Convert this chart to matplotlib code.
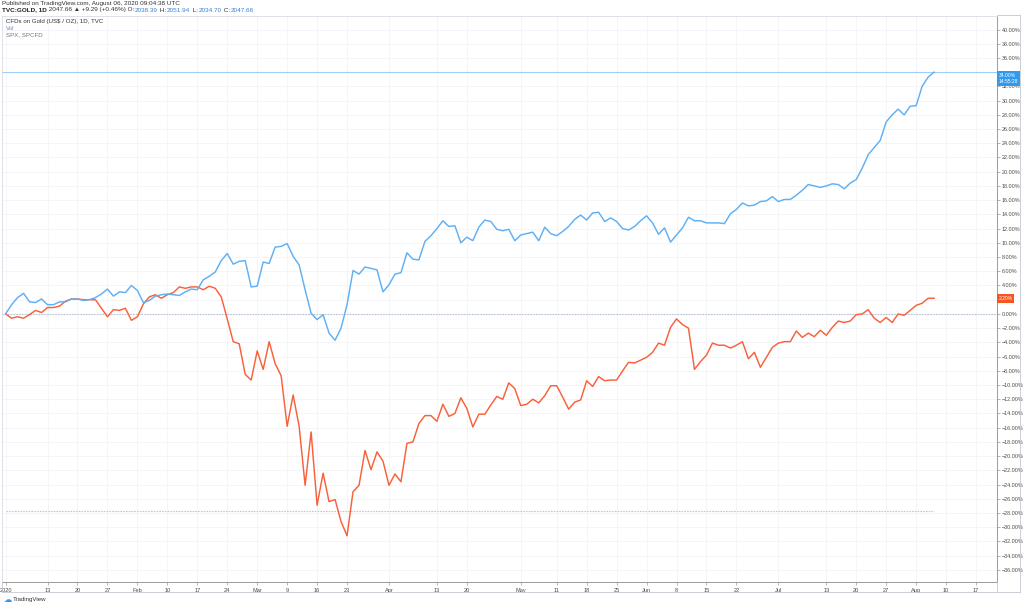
import matplotlib
matplotlib.use("Agg")
import matplotlib.pyplot as plt
from matplotlib.lines import Line2D
import numpy as np
import pandas as pd

plt.rcParams["font.family"] = ["Liberation Sans", "DejaVu Sans"]

# % change since 2 Jan 2020, one value per weekday (2 Jan .. 6 Aug 2020)
gold_pct = [
    0.0, 1.3, 2.3, 2.9, 1.7, 1.6, 2.1, 1.3, 1.3, 1.7,
    1.7, 2.1, 2.1, 1.9, 2.0, 2.3, 2.8, 3.5, 2.5, 3.1,
    3.0, 4.0, 3.3, 1.6, 1.9, 2.5, 2.7, 2.8, 2.7, 2.6,
    3.1, 3.5, 3.4, 4.8, 5.3, 5.9, 7.5, 8.5, 7.0, 7.4,
    7.5, 3.8, 3.9, 7.3, 7.1, 9.4, 9.5, 9.9, 8.1, 6.9,
    3.4, 0.1, -0.8, -0.1, -2.7, -3.7, -2.0, 1.3, 6.1, 5.6,
    6.6, 6.4, 6.2, 3.1, 4.1, 5.6, 5.8, 8.6, 7.7, 7.6,
    10.2, 11.0, 12.0, 13.1, 12.3, 12.4, 10.0, 10.8, 10.3, 12.2,
    13.2, 13.0, 11.9, 11.7, 11.9, 10.3, 11.1, 11.3, 11.5, 10.3,
    12.2, 11.3, 11.0, 11.6, 12.3, 13.3, 13.9, 13.2, 14.2, 14.3,
    13.0, 13.5, 13.0, 12.0, 11.8, 12.3, 13.1, 13.8, 12.8, 11.2,
    12.1, 10.1, 11.1, 12.1, 13.6, 13.1, 13.1, 12.8, 12.8, 12.8,
    12.7, 14.1, 14.7, 15.6, 15.2, 15.3, 15.8, 15.9, 16.5, 15.8,
    16.1, 16.1, 16.7, 17.4, 18.2, 18.0, 17.8, 18.0, 18.3, 18.2,
    17.6, 18.4, 18.9, 20.5, 22.4, 23.4, 24.4, 27.0, 28.0, 28.8,
    28.0, 29.2, 29.3, 32.0, 33.3, 34.0,
]
spx_pct = [
    0.0, -0.6, -0.4, -0.6, -0.1, 0.5, 0.2, 0.9, 0.9, 1.1,
    1.8, 2.1, 2.1, 2.0, 2.0, 2.0, 0.8, -0.4, 0.6, 0.5,
    0.8, -0.9, -0.4, 1.4, 2.4, 2.7, 2.2, 2.7, 3.0, 3.8,
    3.6, 3.8, 3.8, 3.4, 3.9, 3.6, 2.4, -0.7, -3.9, -4.2,
    -8.5, -9.3, -5.2, -7.8, -3.9, -7.0, -8.7, -15.8, -11.4, -15.8,
    -24.1, -16.6, -26.9, -22.4, -26.4, -26.1, -29.2, -31.2, -25.0, -24.1,
    -19.2, -21.9, -19.4, -20.7, -24.1, -22.5, -23.6, -18.2, -18.0, -15.4,
    -14.3, -14.3, -15.1, -12.7, -14.4, -14.0, -11.8, -13.3, -15.9, -14.1,
    -14.1, -12.8, -11.6, -12.0, -9.7, -10.5, -12.9, -12.7, -12.0, -12.5,
    -11.5, -10.1, -10.1, -11.7, -13.4, -12.4, -12.1, -9.4, -10.2, -8.8,
    -9.4, -9.3, -9.3, -8.0, -6.8, -6.9, -6.5, -6.1, -5.4, -4.1,
    -4.4, -1.9, -0.7, -1.5, -2.0, -7.8, -6.7, -5.8, -4.1, -4.4,
    -4.4, -4.8, -4.4, -3.9, -6.3, -5.4, -7.5, -6.1, -4.7, -4.1,
    -3.9, -3.9, -2.4, -3.3, -2.7, -3.2, -2.3, -3.0, -1.9, -1.0,
    -1.2, -1.0, -0.1, 0.0, 0.6, -0.6, -1.2, -0.5, -1.2, 0.0,
    -0.2, 0.5, 1.2, 1.5, 2.2, 2.2,
]
tick_dates = ["2020-01-02", "2020-01-13", "2020-01-20", "2020-01-27",
              "2020-02-03", "2020-02-10", "2020-02-17", "2020-02-24",
              "2020-03-02", "2020-03-09", "2020-03-16", "2020-03-23",
              "2020-04-01", "2020-04-13", "2020-04-20", "2020-05-01",
              "2020-05-11", "2020-05-18", "2020-05-25", "2020-06-01",
              "2020-06-08", "2020-06-15", "2020-06-22", "2020-07-01",
              "2020-07-13", "2020-07-20", "2020-07-27", "2020-08-03",
              "2020-08-10", "2020-08-17"]
tick_labels = ["2020", "13", "20", "27", "Feb", "10", "17", "24", "Mar", "9",
               "16", "23", "Apr", "13", "20", "May", "11", "18", "25", "Jun",
               "8", "15", "22", "Jul", "13", "20", "27", "Aug", "10", "17"]
marker_line = -27.7

BLUE = "#5fb0f4"
RED = "#f9603a"
GRID = "#f2f4f8"
TXT = "#4a4a4a"

dates = pd.bdate_range("2020-01-02", "2020-08-31")
x = np.arange(len(gold_pct))
tick_pos = [dates.get_loc(pd.Timestamp(d)) for d in tick_dates]

W, H = 1024, 606
fig = plt.figure(figsize=(W / 100, H / 100), dpi=100)
ax = fig.add_axes([2 / W, 1 - 582 / H, 995 / W, (582 - 16) / H])

ax.set_xlim(-0.6, 165.5)
ax.set_ylim(-37.7, 41.9)

# scale labels hidden behind the last-value badges are left blank
hidden = {round(gold_pct[-1] / 2) * 2, round(spx_pct[-1] / 2) * 2}
yt = np.arange(-36, 41, 2)
ax.set_yticks(yt)
ax.set_yticklabels(["" if v in hidden else f"{v:.2f}%".replace("-", "\u2212")
                    for v in yt])
ax.yaxis.tick_right()
ax.set_xticks(tick_pos)
ax.set_xticklabels(tick_labels)
ax.tick_params(axis="y", length=2, width=0.5, color="#9a9a9a",
               labelsize=3.9, labelcolor=TXT, pad=1.2)
ax.tick_params(axis="x", length=2, width=0.5, color="#9a9a9a",
               labelsize=4.1, labelcolor=TXT, pad=2.5)
ax.grid(True, color=GRID, lw=0.6)
ax.set_axisbelow(True)
for side in ["left", "top"]:
    ax.spines[side].set_color("#d9dce3")
    ax.spines[side].set_linewidth(0.6)
for side in ["right", "bottom"]:
    ax.spines[side].set_color("#8c8c8c")
    ax.spines[side].set_linewidth(0.6)

ax.axhline(0, color="#b9c3d6", lw=0.8, ls=(0, (1.5, 1)))
ax.plot([x[0], x[-1]], [marker_line, marker_line], color="#d7bfd0",
        lw=0.8, ls=(0, (1.5, 1)))
ax.axhline(gold_pct[-1], color="#9fcdf7", lw=0.8)

ax.plot(x, spx_pct, color=RED, lw=1.05)
ax.plot(x, gold_pct, color=BLUE, lw=1.05)

ytr = ax.get_yaxis_transform()
ax.text(1.0015, gold_pct[-1] - 0.9, f"{gold_pct[-1]:.2f}%\n14:55:28",
        transform=ytr, fontsize=3.6, color="white", va="center", ha="left",
        linespacing=1.2, clip_on=False, zorder=5,
        bbox=dict(boxstyle="square,pad=0.35", fc="#2e9af0", ec="none"))
ax.text(1.0015, spx_pct[-1], f"{spx_pct[-1]:.2f}%", transform=ytr,
        fontsize=3.6, color="white", va="center", ha="left", clip_on=False,
        zorder=5,
        bbox=dict(boxstyle="square,pad=0.35", fc="#f7541f", ec="none"))

# panel frame around the price scale / time scale
for xs, ys in [((2, 1020), (592, 592)), ((997, 997), (582, 592)),
               ((1020, 1020), (15, 592)), ((997, 1020), (15, 15)),
               ((2, 2), (582, 592))]:
    fig.add_artist(Line2D([v / W for v in xs], [1 - v / H for v in ys],
                          color="#c4c7cf", lw=0.6))

# header
fig.text(2 / W, 1 - 4 / H, "Published on TradingView.com, August 06, 2020 09:04:38 UTC",
         fontsize=4.6, color="#333333", va="center")
renderer = fig.canvas.get_renderer()
parts = [("TVC:GOLD, 1D", "#222222", "bold"),
         (" 2047.66 \u25b2 +9.29 (+0.46%) O:", "#333333", "normal"),
         ("2038.39", "#3d7fd6", "normal"), (" H:", "#333333", "normal"),
         ("2051.94", "#3d7fd6", "normal"), (" L:", "#333333", "normal"),
         ("2034.70", "#3d7fd6", "normal"), (" C:", "#333333", "normal"),
         ("2047.66", "#3d7fd6", "normal")]
xp = 2
for s, c, wgt in parts:
    t = fig.text(xp / W, 1 - 10 / H, s, fontsize=4.6, color=c,
                 fontweight=wgt, va="center")
    xp = t.get_window_extent(renderer).x1 + 0.5

fig.text(6 / W, 1 - 21.5 / H, "CFDs on Gold (US$ / OZ), 1D, TVC",
         fontsize=4.4, color="#333333", va="center")
fig.text(6 / W, 1 - 28 / H, "Vol", fontsize=4.4, color="#7b86c8", va="center")
fig.text(6 / W, 1 - 34.5 / H, "SPX, SPCFD", fontsize=4.4, color="#777777",
         va="center")

# footer logo
fig.text(4 / W, 1 - 599 / H, "\u2601", fontsize=6, color="#2e9af0",
         va="center", family=["DejaVu Sans"])
fig.text(13 / W, 1 - 599 / H, "TradingView", fontsize=4.4, color="#333333",
         va="center")

fig.savefig("out.png", dpi=100)
